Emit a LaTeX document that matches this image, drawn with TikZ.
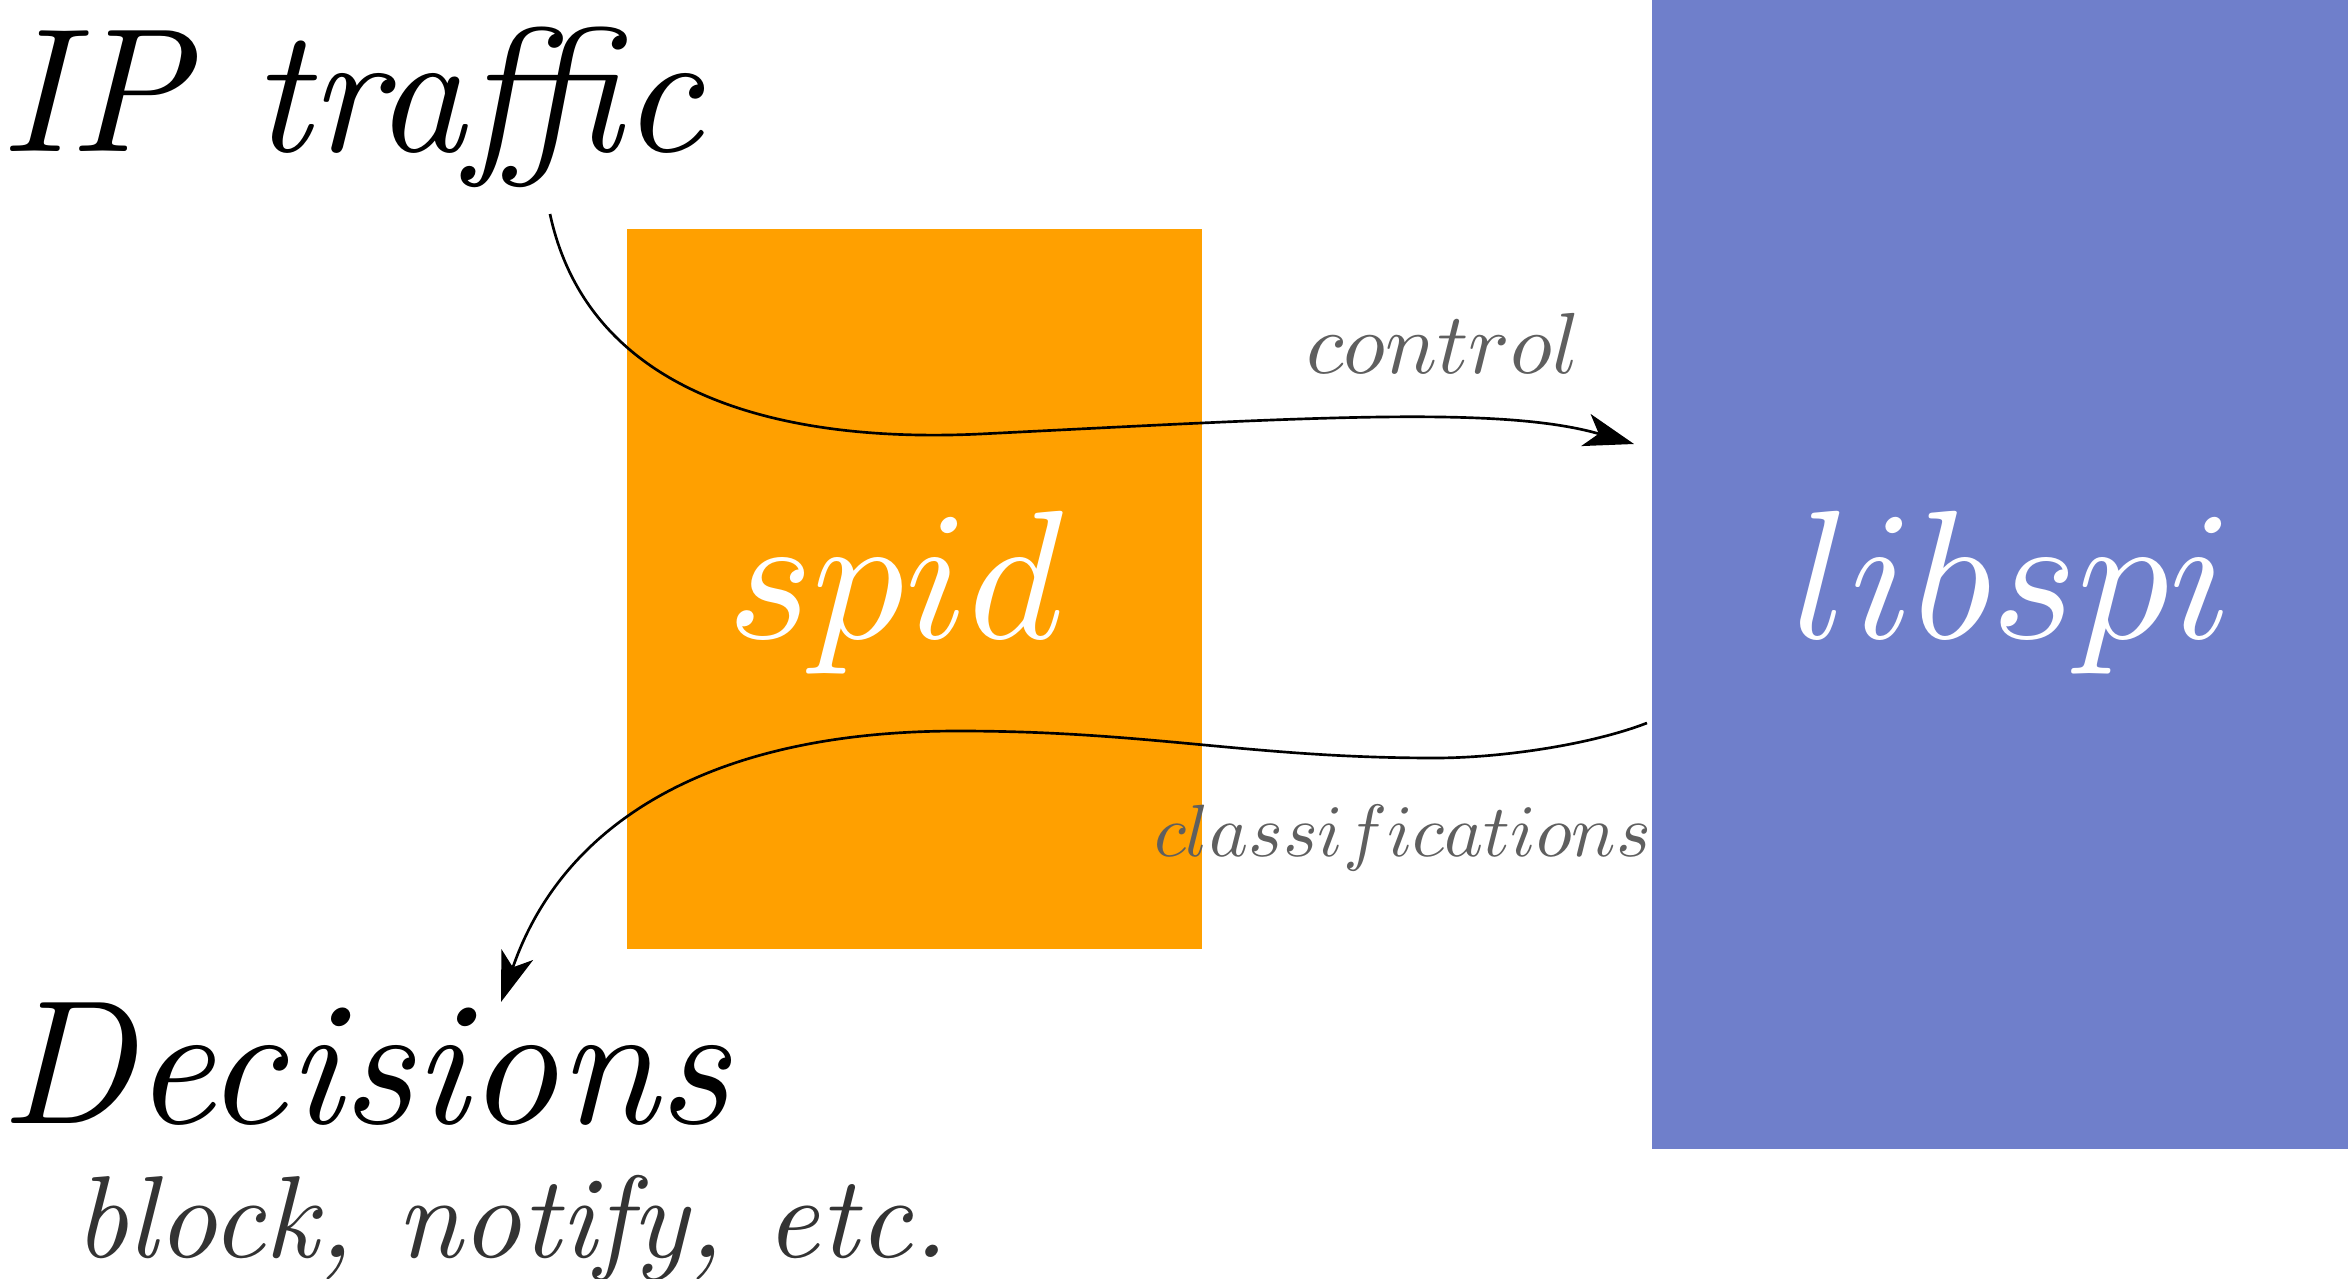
\documentclass[tikz,border=0pt]{standalone}
\usetikzlibrary{arrows.meta}
\definecolor{spidorange}{HTML}{FFA000}
\definecolor{libblue}{HTML}{6F7FCB}
\definecolor{labgray}{HTML}{5F5F5F}
\definecolor{subgray}{HTML}{333333}
\newcommand{\sctxt}[2]{\scalebox{#1}{#2}}
\tikzset{
  txt/.style={inner sep=0pt,outer sep=0pt,anchor=base west,font=\fontsize{10}{12}\selectfont},
  inbox/.style={txt,text=white},
  edgelab/.style={txt,text=labgray},
  flow/.style={line width=0.8pt,-{Stealth[length=15pt,width=10pt,inset=4pt]}}
}
\begin{document}
\begin{tikzpicture}[x=0.3pt,y=-0.3pt]
\useasboundingbox (0,0) rectangle (2348,1279);
% boxes
\fill[spidorange] (627,229) rectangle (1202,949);
\fill[libblue] (1652,0) rectangle (2348,1149);
% texts
\node[txt] (ip) at (0,151) {\sctxt{5.3}{\itshape IP traffic}};
\node[txt] (dec) at (0,1123) {\sctxt{5.3}{\itshape Decisions}};
\node[txt,text=subgray] (sub) at (74,1257) {\sctxt{3.5}{\itshape block, notify, etc.}};
\node[inbox] (spid) at (727,638) {\sctxt{5.5}{$spid$}};
\node[inbox] (libspi) at (1792,638) {\sctxt{5.5}{$libspi$}};
% connector end points
\coordinate (c1s) at (550,214);
\coordinate (c1m) at (980,434);
\coordinate (c1e) at (1634,444);
\coordinate (c2s) at (1647,723);
\coordinate (c2a) at (1435,758);
\coordinate (c2b) at (958,731);
\coordinate (c2e) at (501,1002);
% connectors
\draw[flow] (c1s) .. controls (590,400) and (790,443) .. (c1m)
  .. controls (1300,418) and (1500,405) .. (c1e);
\draw[flow] (c2s) .. controls (1590,745) and (1500,758) .. (c2a)
  .. controls (1250,758) and (1150,731) .. (c2b)
  .. controls (700,731) and (560,830) .. (c2e);
% edge labels
\node[edgelab] (ctl) at (1306,373) {\sctxt{2.6}{$control$}};
\node[edgelab] (cls) at (1154,856) {\sctxt{2.22}{$classifications$}};
\end{tikzpicture}
\end{document}
